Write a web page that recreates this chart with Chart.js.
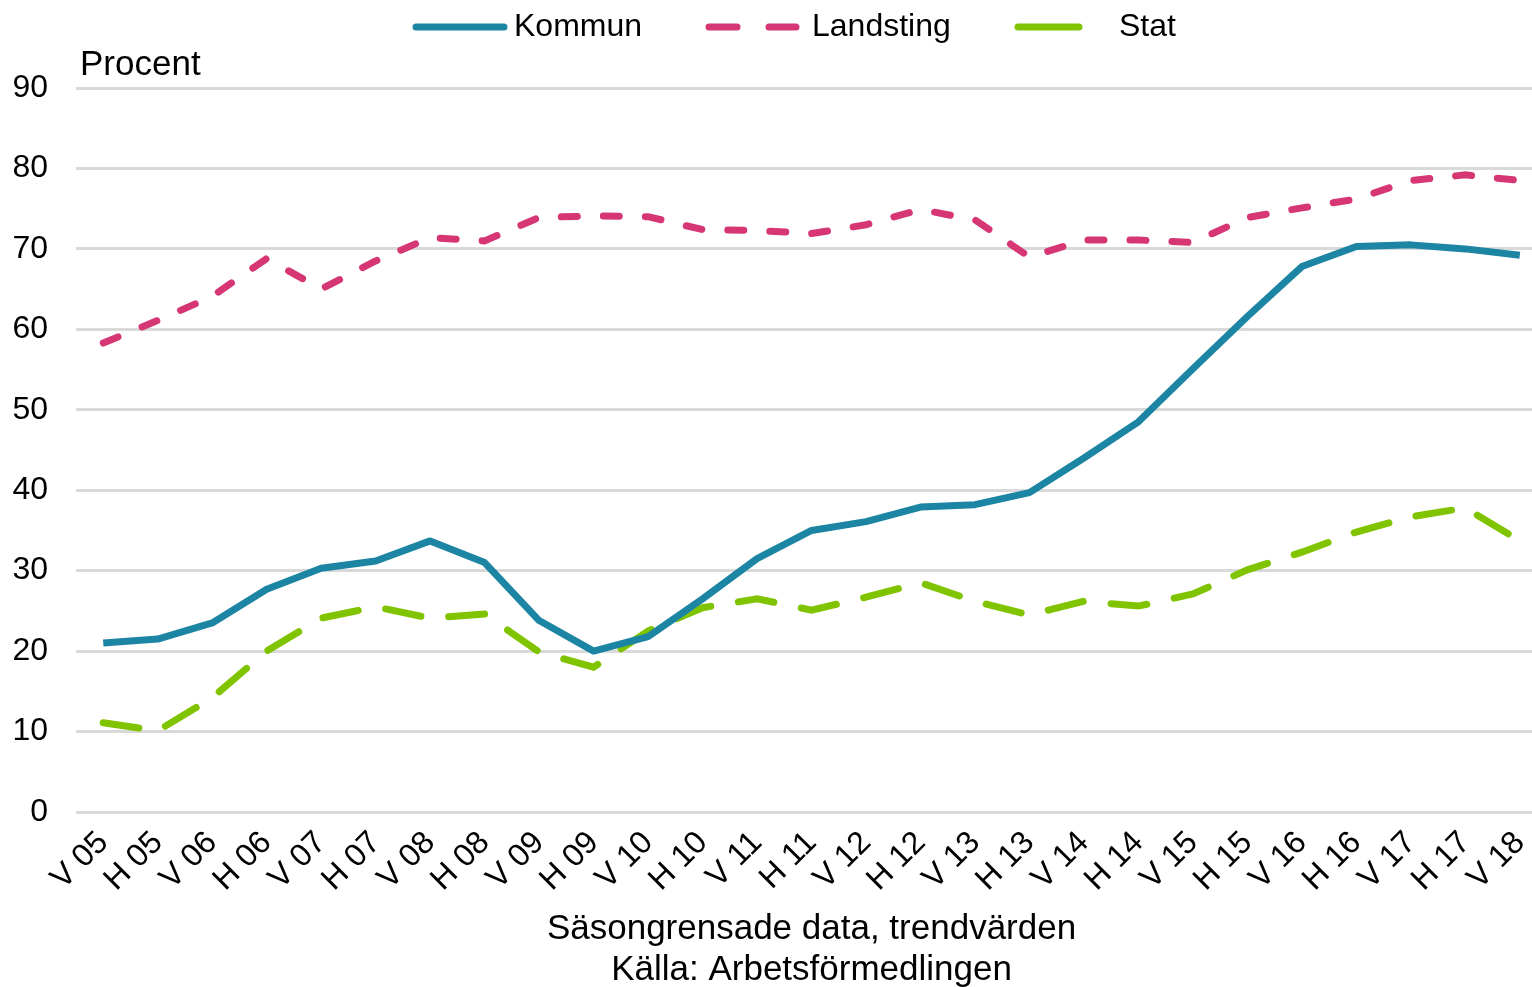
<!DOCTYPE html>
<html>
<head>
<meta charset="UTF-8" />
<title>Kommun, Landsting, Stat</title>
<script src="https://cdn.jsdelivr.net/npm/chart.js"></script>
<style>
  html, body { margin: 0; padding: 0; background: #fff; overflow: hidden; }
  /* the original is cut off a little on the right, so the chart is wider than the window */
  #wrap { width: 1551px; height: 987px; }
</style>
</head>
<body>
<div id="wrap"><canvas id="chart"></canvas></div>
<script>
const labels = ['V 05', 'H 05', 'V 06', 'H 06', 'V 07', 'H 07', 'V 08', 'H 08', 'V 09', 'H 09',
  'V 10', 'H 10', 'V 11', 'H 11', 'V 12', 'H 12', 'V 13', 'H 13', 'V 14', 'H 14',
  'V 15', 'H 15', 'V 16', 'H 16', 'V 17', 'H 17', 'V 18'];

const kommun = [21.0, 21.5, 23.5, 27.7, 30.3, 31.2, 33.7, 31.0, 23.8, 20.0,
  21.8, 26.5, 31.5, 35.0, 36.1, 37.9, 38.2, 39.7, 44.0, 48.5,
  55.1, 61.6, 67.8, 70.3, 70.5, 70.0, 69.2];

const landsting = [58.3, 61.1, 64.1, 68.8, 65.0, 68.5, 71.4, 71.0, 73.9, 74.1,
  74.0, 72.4, 72.3, 71.9, 73.0, 74.9, 73.6, 69.0, 71.1, 71.1,
  70.8, 73.9, 75.1, 76.2, 78.5, 79.2, 78.5];

const stat = [11.1, 10.1, 14.2, 20.0, 24.1, 25.5, 24.1, 24.6, 19.9, 18.0,
  22.5, 25.4, 26.5, 25.1, 26.7, 28.5, 26.2, 24.5, 26.2, 25.6,
  27.1, 30.1, 32.3, 34.8, 36.7, 37.8, 33.7];

const yMin = 0, yMax = 90, yStep = 10;
const yTitle = 'Procent';
const xTitle = ['Säsongrensade data, trendvärden', 'Källa: Arbetsförmedlingen'];

const FONT = "'Liberation Sans', Arial, sans-serif";

// legend + "Procent" drawn by hand so the swatches look like the original
const topText = {
  id: 'topText',
  afterDraw(chart) {
    const ctx = chart.ctx;
    const area = chart.chartArea;
    ctx.save();
    ctx.fillStyle = '#000';
    ctx.textBaseline = 'middle';
    ctx.textAlign = 'left';
    ctx.font = '35px ' + FONT;
    ctx.fillText(yTitle, area.left + 4, 65);

    ctx.font = '32px ' + FONT;
    const items = [
      { ds: 0, x: 416, w: 88, dash: [], tx: 514 },
      { ds: 1, x: 709, w: 87, dash: [28, 32], tx: 812 },
      { ds: 2, x: 1018, w: 61, dash: [], tx: 1119 }
    ];
    const y = 27;
    items.forEach(it => {
      const d = chart.data.datasets[it.ds];
      ctx.beginPath();
      ctx.strokeStyle = d.borderColor;
      ctx.lineWidth = 7;
      ctx.lineCap = 'round';
      ctx.setLineDash(it.dash);
      ctx.moveTo(it.x, y);
      ctx.lineTo(it.x + it.w, y);
      ctx.stroke();
      ctx.setLineDash([]);
      ctx.fillText(d.label, it.tx, y);
    });
    ctx.restore();
  }
};

const ctx = document.getElementById('chart');
new Chart(ctx, {
  type: 'line',
  data: {
    labels: labels,
    datasets: [
      {
        label: 'Kommun',
        data: kommun,
        borderColor: 'rgb(28,133,163)',
        borderWidth: 7,
        pointRadius: 0,
        tension: 0,
        borderJoinStyle: 'round'
      },
      {
        label: 'Landsting',
        data: landsting,
        borderColor: 'rgb(214,54,116)',
        borderWidth: 7,
        borderDash: [16, 26],
        borderCapStyle: 'round',
        pointRadius: 0,
        tension: 0
      },
      {
        label: 'Stat',
        data: stat,
        borderColor: 'rgb(128,196,0)',
        borderWidth: 7,
        borderDash: [36, 28],
        borderCapStyle: 'round',
        pointRadius: 0,
        tension: 0
      }
    ]
  },
  options: {
    responsive: true,
    maintainAspectRatio: false,
    animation: false,
    devicePixelRatio: 1,
    layout: { padding: { top: 88, right: 2, left: 0, bottom: 0 } },
    plugins: {
      legend: { display: false },
      tooltip: { enabled: false }
    },
    scales: {
      x: {
        offset: true,
        afterFit(scale) { scale.height = 175; },
        grid: { display: false },
        border: { display: false },
        ticks: {
          autoSkip: false,
          minRotation: 45,
          maxRotation: 45,
          padding: 4,
          color: '#000',
          font: { family: FONT, size: 32 }
        },
        title: {
          display: true,
          text: xTitle,
          color: '#000',
          padding: { top: 0, bottom: -4 },
          font: { family: FONT, size: 35, lineHeight: 1.17 }
        }
      },
      y: {
        min: yMin,
        max: yMax,
        afterFit(scale) { scale.width = 76; },
        grid: { color: '#d9d9d9', lineWidth: 3, drawTicks: false },
        border: { display: false },
        ticks: {
          stepSize: yStep,
          padding: 28,
          color: '#000',
          font: { family: FONT, size: 32 }
        }
      }
    }
  },
  plugins: [topText]
});
</script>
</body>
</html>
